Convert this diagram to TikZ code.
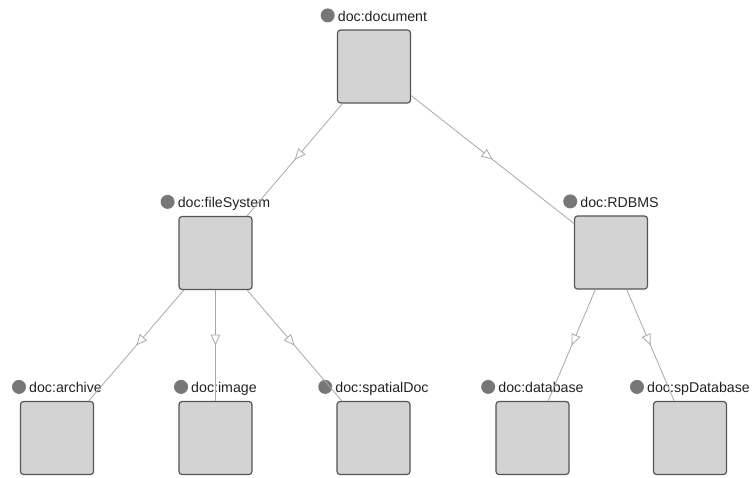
\documentclass[tikz,border=0pt]{standalone}
\usepackage{fontspec}
\setmainfont{Liberation Sans}
\usetikzlibrary{arrows.meta,decorations.markings,calc}
\definecolor{boxfill}{HTML}{D3D3D3}
\definecolor{boxline}{HTML}{555555}
\definecolor{dotcol}{HTML}{777777}
\definecolor{edgecol}{HTML}{A8A8A8}
\definecolor{txtcol}{HTML}{222222}
\tikzset{
  clsbox/.style={draw=boxline, fill=boxfill, line width=1.2pt, rounded corners=3pt,
    minimum width=73pt, minimum height=73pt, inner sep=0pt},
  clsdot/.style={fill=dotcol},
  clslbl/.style={anchor=base, inner sep=0pt, text=txtcol, font=\fontsize{14.2}{16}\selectfont},
  isa/.style={draw=edgecol, line width=0.8pt,
    postaction={decorate, decoration={markings,
      mark=at position 0.5 with {\arrow{Triangle[fill=white, length=11pt, width=9.5pt]}}}}}
}
\newcommand\clsnode[4]{%
  \node[clsbox] (#1) at (#2,#3) {};
  \node[clslbl] (#1-lbl) at ($(#1.north)+(8.5,-8)$) {#4};
  \fill[clsdot] ($(#1-lbl.base west)+(-10,-6)$) circle (7pt);
}
\begin{document}
\begin{tikzpicture}[x=1pt,y=-1pt]
\useasboundingbox (0,0) rectangle (753,477);
\clsnode{doc}{374}{66.5}{doc:document}
\clsnode{fs}{215.5}{253}{doc:fileSystem}
\clsnode{rdbms}{611}{252.5}{doc:RDBMS}
\clsnode{arch}{57}{438}{doc:archive}
\clsnode{img}{215.5}{438}{doc:image}
\clsnode{spat}{373.5}{438}{doc:spatialDoc}
\clsnode{db}{532.5}{438}{doc:database}
\clsnode{spdb}{690}{438}{doc:spDatabase}
\draw[isa] (doc) -- (fs);
\draw[isa] (doc) -- (rdbms);
\draw[isa] (fs) -- (arch);
\draw[isa] (fs) -- (img);
\draw[isa] (fs) -- (spat);
\draw[isa] (rdbms) -- (db);
\draw[isa] (rdbms) -- (spdb);
\end{tikzpicture}
\end{document}
